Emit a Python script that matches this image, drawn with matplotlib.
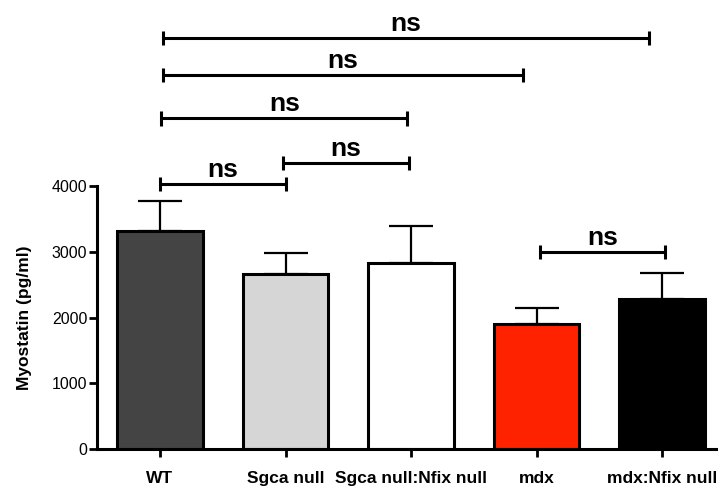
import matplotlib
matplotlib.use("Agg")
from matplotlib import pyplot as plt

plt.rcParams['font.family'] = ['Liberation Sans', 'DejaVu Sans']

groups = ["WT", "Sgca null", "Sgca null:Nfix null", "mdx", "mdx:Nfix null"]
means = [3320, 2660, 2830, 1900, 2280]
sem = [450, 320, 560, 245, 395]
colors = ["#444444", "#d6d6d6", "#ffffff", "#ff2200", "#000000"]

# significance brackets: (x start, x end, height), all "ns"
brackets = [
    (0.02, 3.90, 6250),
    (0.02, 2.89, 5690),
    (0.01, 1.97, 5030),
    (0.98, 1.98, 4350),
    (0.00, 1.00, 4030),
    (3.03, 4.02, 3000),
]
bracket_labels = ["ns", "ns", "ns", "ns", "ns", "ns"]

fig = plt.figure(figsize=(7.18, 4.93), dpi=100)
ax = fig.add_axes([97 / 718, 44 / 493, 621 / 718, 449 / 493])

x = list(range(len(groups)))
ax.errorbar(x, means, yerr=[[0] * len(sem), sem], fmt="none", ecolor="black",
            elinewidth=1.6, capsize=16, capthick=1.6, zorder=1)
ax.bar(x, means, width=0.68, color=colors, edgecolor="black", linewidth=2.2, zorder=2)

for (x0, x1, h), lab in zip(brackets, bracket_labels):
    ax.plot([x0, x1], [h, h], color="black", lw=2.2, clip_on=False, solid_capstyle="butt")
    for xe in (x0, x1):
        ax.plot([xe, xe], [h - 110, h + 110], color="black", lw=2.2, clip_on=False,
                solid_capstyle="butt")
    ax.text((x0 + x1) / 2, h + 30, lab, ha="center", va="bottom", fontsize=19,
            fontweight="bold", clip_on=False)

ax.set_xlim(-0.502, 4.446)
ax.set_ylim(0, 6829)
ax.set_yticks([0, 1000, 2000, 3000, 4000])
ax.set_xticks(x)
ax.set_xticklabels(groups, fontsize=12.5, fontweight="bold")
ax.tick_params(axis="y", labelsize=11.5, width=2, length=6, pad=1)
ax.tick_params(axis="x", width=2, length=6, pad=10)
ax.spines["left"].set_bounds(0, 4000)
ax.spines["left"].set_linewidth(2.2)
ax.spines["bottom"].set_linewidth(2.2)
ax.spines["top"].set_visible(False)
ax.spines["right"].set_visible(False)
ax.set_ylabel("Myostatin (pg/ml)", fontsize=12.5, fontweight="bold", y=2000 / 6829, labelpad=14)

fig.savefig("out.png", dpi=100)
